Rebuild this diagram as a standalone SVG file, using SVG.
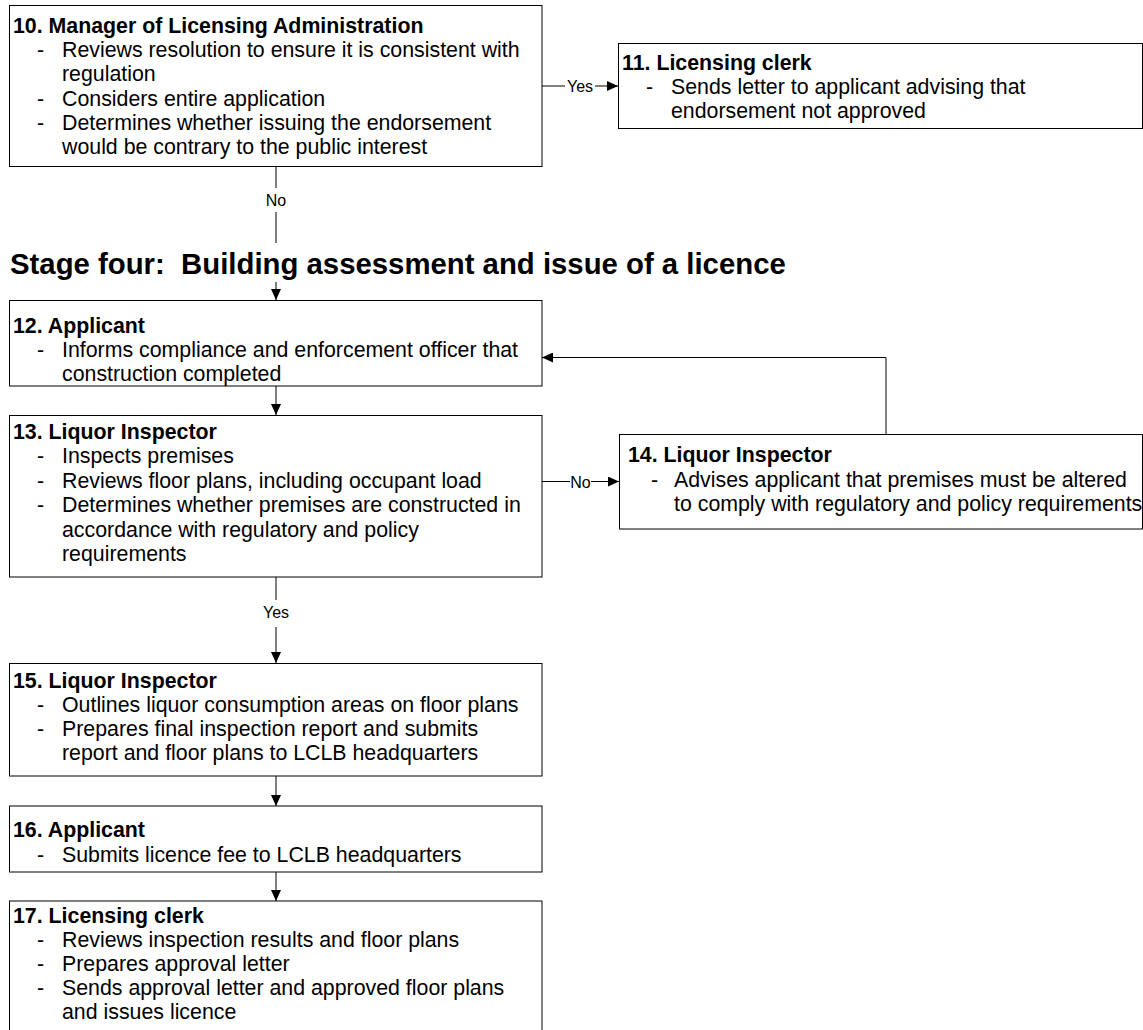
<svg xmlns="http://www.w3.org/2000/svg" width="1143" height="1030" viewBox="0 0 1143 1030">
<style>
.box{fill:#fff;stroke:#000;stroke-width:1}
.t{font-family:"Liberation Sans",Arial,sans-serif;font-size:21.33px;fill:#000}
.b{font-weight:bold}
.c{fill:none;stroke:#000;stroke-width:1}
.lbl{font-family:"Liberation Sans",Arial,sans-serif;font-size:16px;fill:#000;text-anchor:middle}
.h{font-family:"Liberation Sans",Arial,sans-serif;font-size:29.33px;font-weight:bold;fill:#000}
</style>
<defs>
<marker id="ah" markerUnits="userSpaceOnUse" markerWidth="11" markerHeight="10" refX="11" refY="5" orient="auto">
<path d="M0,0 L11,5 L0,10 z" fill="#000"/>
</marker>
</defs>
<rect width="1143" height="1030" fill="#fff"/>

<g id="connectors">
<path class="c" d="M542,86 H618" marker-end="url(#ah)"/>
<path class="c" d="M276,166 V300" marker-end="url(#ah)"/>
<path class="c" d="M276,386 V415" marker-end="url(#ah)"/>
<path class="c" d="M542,481.5 H619" marker-end="url(#ah)"/>
<path class="c" d="M886,434 V357.5 H542" marker-end="url(#ah)"/>
<path class="c" d="M276,577 V663" marker-end="url(#ah)"/>
<path class="c" d="M276,776 V806" marker-end="url(#ah)"/>
<path class="c" d="M276,872 V901" marker-end="url(#ah)"/>
<g id="labels">
<rect x="565" y="78" width="30" height="16" fill="#fff"/>
<text class="lbl" x="580" y="92">Yes</text>
<rect x="265" y="188" width="22" height="24" fill="#fff"/>
<text class="lbl" x="276" y="206">No</text>
<rect x="570" y="473" width="21" height="17" fill="#fff"/>
<text class="lbl" x="580.5" y="487.5">No</text>
<rect x="262" y="600" width="28" height="27" fill="#fff"/>
<text class="lbl" x="276" y="617.5">Yes</text>
</g>
</g>

<g id="heading">
<rect x="8" y="243" width="785" height="39" fill="#fff"/>
<text class="h" x="10" y="274" xml:space="preserve">Stage four:  Building assessment and issue of a licence</text>
</g>

<g id="n10">
<rect class="box" x="9.5" y="5.5" width="532.5" height="161"/>
<text class="t b" x="13" y="32.5">10. Manager of Licensing Administration</text>
<text class="t" x="37" y="57">-</text>
<text class="t" x="62" y="57">Reviews resolution to ensure it is consistent with</text>
<text class="t" x="62" y="81.3">regulation</text>
<text class="t" x="37" y="105.6">-</text>
<text class="t" x="62" y="105.6">Considers entire application</text>
<text class="t" x="37" y="130">-</text>
<text class="t" x="62" y="130">Determines whether issuing the endorsement</text>
<text class="t" x="62" y="154">would be contrary to the public interest</text>
</g>

<g id="n11">
<rect class="box" x="618.5" y="43.5" width="524" height="85"/>
<text class="t b" x="622" y="70">11. Licensing clerk</text>
<text class="t" x="646" y="94">-</text>
<text class="t" x="671" y="94">Sends letter to applicant advising that</text>
<text class="t" x="671" y="118">endorsement not approved</text>
</g>

<g id="n12">
<rect class="box" x="9.5" y="300.5" width="532.5" height="85.5"/>
<text class="t b" x="13" y="333">12. Applicant</text>
<text class="t" x="37" y="357">-</text>
<text class="t" x="62" y="357">Informs compliance and enforcement officer that</text>
<text class="t" x="62" y="381">construction completed</text>
</g>

<g id="n13">
<rect class="box" x="9.5" y="415.5" width="532.5" height="161.5"/>
<text class="t b" x="13" y="438.5">13. Liquor Inspector</text>
<text class="t" x="37" y="463">-</text>
<text class="t" x="62" y="463">Inspects premises</text>
<text class="t" x="37" y="487.5">-</text>
<text class="t" x="62" y="487.5">Reviews floor plans, including occupant load</text>
<text class="t" x="37" y="512">-</text>
<text class="t" x="62" y="512">Determines whether premises are constructed in</text>
<text class="t" x="62" y="536.5">accordance with regulatory and policy</text>
<text class="t" x="62" y="561">requirements</text>
</g>

<g id="n14">
<rect class="box" x="619.5" y="434.5" width="523" height="94.5"/>
<text class="t b" x="628" y="461.5">14. Liquor Inspector</text>
<text class="t" x="651" y="486.5">-</text>
<text class="t" x="674" y="486.5">Advises applicant that premises must be altered</text>
<text class="t" x="674" y="511">to comply with regulatory and policy requirements</text>
</g>

<g id="n15">
<rect class="box" x="9.5" y="663.5" width="532.5" height="112.5"/>
<text class="t b" x="13" y="688">15. Liquor Inspector</text>
<text class="t" x="37" y="712">-</text>
<text class="t" x="62" y="712">Outlines liquor consumption areas on floor plans</text>
<text class="t" x="37" y="736">-</text>
<text class="t" x="62" y="736">Prepares final inspection report and submits</text>
<text class="t" x="62" y="760">report and floor plans to LCLB headquarters</text>
</g>

<g id="n16">
<rect class="box" x="9.5" y="806" width="532.5" height="66"/>
<text class="t b" x="13" y="837">16. Applicant</text>
<text class="t" x="37" y="861.5">-</text>
<text class="t" x="62" y="861.5">Submits licence fee to LCLB headquarters</text>
</g>

<g id="n17">
<rect class="box" x="9.5" y="901" width="532.5" height="140"/>
<text class="t b" x="13" y="922.5">17. Licensing clerk</text>
<text class="t" x="37" y="946.5">-</text>
<text class="t" x="62" y="946.5">Reviews inspection results and floor plans</text>
<text class="t" x="37" y="971">-</text>
<text class="t" x="62" y="971">Prepares approval letter</text>
<text class="t" x="37" y="995">-</text>
<text class="t" x="62" y="995">Sends approval letter and approved floor plans</text>
<text class="t" x="62" y="1019">and issues licence</text>
</g>
</svg>
